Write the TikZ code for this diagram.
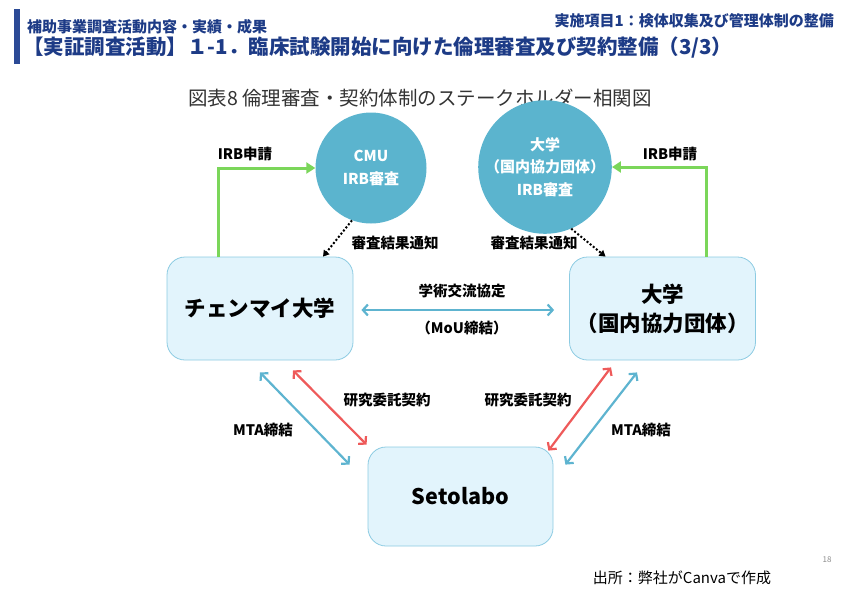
\documentclass[tikz,border=0pt]{standalone}
\usepackage{fontspec}
\setmainfont{Noto Sans CJK JP}
\usepackage{tikz}
\usetikzlibrary{arrows.meta}
\usetikzlibrary{positioning}
\usetikzlibrary{calc}

\definecolor{navyText}{HTML}{1D3B86}
\definecolor{barNavy}{HTML}{2B4A96}
\definecolor{capGray}{HTML}{333333}
\definecolor{circFill}{HTML}{5BB4CE}
\definecolor{boxFill}{HTML}{E2F4FC}
\definecolor{boxLine}{HTML}{8CCBE2}
\definecolor{irbGreen}{HTML}{7BD65A}
\definecolor{linkBlue}{HTML}{5EB4D0}
\definecolor{dealRed}{HTML}{EE5A5A}

\begin{document}
\begin{tikzpicture}[x=1pt, y=-1pt,
    party/.style={draw=boxLine, fill=boxFill, line width=0.8pt, rounded corners=18pt,
      minimum width=186pt, minimum height=103pt, align=center,
      font=\fontsize{21.5}{29}\selectfont\bfseries},
    irb/.style={circle, fill=circFill, minimum size=111pt, inner sep=0pt, text=white,
      align=center, font=\fontsize{15}{22.5}\selectfont\bfseries},
    lbl/.style={inner sep=0pt, font=\fontsize{14.5}{17}\selectfont\bfseries},
    apply/.style={draw=irbGreen, line width=3pt, -{Triangle[length=9pt,width=11pt]}},
    notice/.style={black, line width=2pt, dash pattern=on 2pt off 2pt,
      -{Triangle[length=6pt,width=7pt]}},
    mou/.style={draw=linkBlue, line width=2.2pt,
      {Straight Barb[length=5pt,width=11pt]}-{Straight Barb[length=5pt,width=11pt]}},
    deal/.style={mou, draw=dealRed}]
  \useasboundingbox (0,0) rectangle (842,595);

  % header
  \fill [barNavy] (14,9) rectangle (20,64);
  \node [anchor=west, inner sep=0pt, text=navyText, font=\fontsize{15}{18}\selectfont\bfseries]
    (subttl) at (27,27) {補助事業調査活動内容・実績・成果};
  \node [anchor=west, inner sep=0pt, text=navyText, font=\fontsize{20.5}{23}\selectfont\bfseries]
    (ttl) at (23,48) {【実証調査活動】１-1．臨床試験開始に向けた倫理審査及び契約整備（3/3）};
  \node [anchor=east, inner sep=0pt, text=navyText, font=\fontsize{15}{18}\selectfont\bfseries]
    (item) at (834,21) {実施項目1：検体収集及び管理体制の整備};
  \node [inner sep=0pt, text=capGray, font=\fontsize{19.5}{22}\selectfont]
    (cap) at (420,98) {図表8 倫理審査・契約体制のステークホルダー相関図};

  % stakeholders
  \node [irb] (cmuirb) at (371,168) {CMU\\IRB審査};
  \node [irb] (jpirb) at (545,167) {大学\\（国内協力団体）\\IRB審査};
  \node [party] (chiang) at (260,308.5) {チェンマイ大学};
  \node [party] (jpuni) at (662.5,308.5) {大学\\（国内協力団体）};
  \node [party, minimum width=185pt, minimum height=99pt] (seto) at (460.5,496.5) {Setolabo};

  % IRB
  \draw [apply] ([xshift=-42pt]chiang.north) |- (cmuirb.west);
  \draw [apply] ([xshift=44pt]jpuni.north) |- (jpirb.east);
  \node [lbl] (apl) at (245,154) {IRB申請};
  \node [lbl] (apr) at (670,154) {IRB申請};
  \draw [notice] (cmuirb.-110) -- ([xshift=63pt]chiang.north);
  \draw [notice] (jpirb.-67) -- ([xshift=-57pt]jpuni.north);
  \node [lbl] (ntl) at (395,243) {審査結果通知};
  \node [lbl] (ntr) at (534,243) {審査結果通知};

  % agreements
  \draw [mou] ([shift={(8,1.5)}]chiang.east) -- ([shift={(-15,1.5)}]jpuni.west);
  \node [lbl] (mou1) at (462,291) {学術交流協定};
  \node [lbl] (mou2) at (462,328) {（MoU締結）};
  \draw [mou] ([yshift=-12pt]chiang.south) -- ([shift={(-18,18)}]seto.north west);
  \draw [deal] ([shift={(33,10)}]chiang.south) -- ([shift={(-1,-2)}]seto.north west);
  \draw [deal] ([shift={(-51.5,7)}]jpuni.south) -- ([shift={(-5,4)}]seto.north east);
  \draw [mou] ([shift={(-25.5,12)}]jpuni.south) -- ([shift={(12,18)}]seto.north east);
  \node [lbl] (dl) at (387,400) {研究委託契約};
  \node [lbl] (dr) at (528,400) {研究委託契約};
  \node [lbl] (mtal) at (263,430) {MTA締結};
  \node [lbl] (mtar) at (641,430) {MTA締結};

  % footer
  \node [inner sep=0pt, text=black!45, font=\fontsize{8}{9}\selectfont] (pg) at (827,560) {18};
  \node [inner sep=0pt, font=\fontsize{15}{18}\selectfont] (src) at (682,578) {出所：弊社がCanvaで作成};
\end{tikzpicture}
\end{document}
